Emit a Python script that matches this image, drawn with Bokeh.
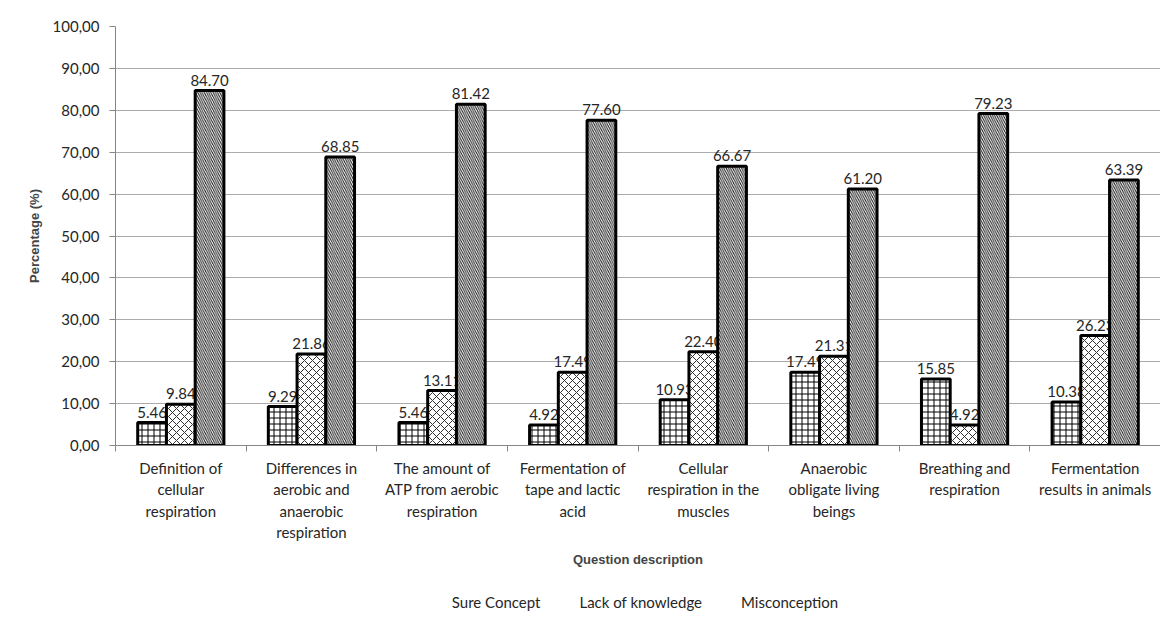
import numpy as np
from bokeh.plotting import figure
from bokeh.layouts import column
from bokeh.models import ColumnDataSource, FixedTicker, Legend, LegendItem, Range1d
from bokeh.transform import dodge
from bokeh.core.properties import value
from bokeh.embed import file_html
from bokeh.resources import INLINE

categories = [
    "Definition of\ncellular\nrespiration",
    "Differences in\naerobic and\nanaerobic\nrespiration",
    "The amount of\nATP from aerobic\nrespiration",
    "Fermentation of\ntape and lactic\nacid",
    "Cellular\nrespiration in the\nmuscles",
    "Anaerobic\nobligate living\nbeings",
    "Breathing and\nrespiration",
    "Fermentation\nresults in animals",
]
series_names = ["Sure Concept", "Lack of knowledge", "Misconception"]
sure_concept = [5.46, 9.29, 5.46, 4.92, 10.93, 17.49, 15.85, 10.38]
lack_of_knowledge = [9.84, 21.86, 13.11, 17.49, 22.40, 21.31, 4.92, 26.23]
misconception = [84.70, 68.85, 81.42, 77.60, 66.67, 61.20, 79.23, 63.39]
y_ticks = [0, 10, 20, 30, 40, 50, 60, 70, 80, 90, 100]

n = len(categories)
xc = np.arange(n) + 0.5
src = ColumnDataSource(dict(
    x=xc,
    s0=sure_concept, s1=lack_of_knowledge, s2=misconception,
    l0=[f"{v:.2f}" for v in sure_concept],
    l1=[f"{v:.2f}" for v in lack_of_knowledge],
    l2=[f"{v:.2f}" for v in misconception],
))

FONT = "Lato"
TXT = "#262626"
p = figure(width=1160, height=580, output_backend="svg", toolbar_location=None,
           x_range=Range1d(0, n), y_range=Range1d(0, 100),
           min_border_left=115, min_border_right=0, min_border_top=26, min_border_bottom=135)
p.outline_line_color = None
p.background_fill_color = "white"

bw = 0.22
offsets = [-bw, 0.0, bw]
hatches = [("+", 6, 1.0, "#000000"), ("x", 8, 1.0, "#303030"), ("\\", 4.4, 1.0, "#1a1a1a")]
for i in range(3):
    pat, sc, wt, hc = hatches[i]
    p.vbar(x=dodge("x", offsets[i]), top=f"s{i}", width=bw, bottom=0, source=src,
           fill_color="white", line_color="black", line_width=3,
           hatch_pattern=pat, hatch_scale=sc, hatch_weight=wt, hatch_color=hc)
    p.text(x=dodge("x", offsets[i]), y=f"s{i}", text=f"l{i}", source=src,
           text_align="center", text_baseline="bottom", y_offset=-5,
           text_font=value(FONT), text_font_size="15px", text_color=TXT)

# axes
xa = p.xaxis[0]
xa.ticker = FixedTicker(ticks=list(xc), minor_ticks=list(range(n + 1)))
xa.major_label_overrides = {float(x): c for x, c in zip(xc, categories)}
xa.major_tick_line_color = None
xa.major_tick_out = 0
xa.minor_tick_in = 0
xa.minor_tick_out = 6
xa.minor_tick_line_color = "#868686"
xa.axis_line_color = "#868686"
xa.major_label_text_font = FONT
xa.major_label_text_font_size = "15px"
xa.major_label_text_color = TXT
xa.major_label_text_line_height = 1.2
xa.major_label_standoff = 7
xa.axis_label = "Question description"
xa.axis_label_text_font = "Liberation Sans"
xa.axis_label_text_font_style = "bold"
xa.axis_label_text_font_size = "13px"
xa.axis_label_standoff = 8

ya = p.yaxis[0]
ya.ticker = FixedTicker(ticks=y_ticks, minor_ticks=[])
ya.major_label_overrides = {t: f"{t:.2f}".replace(".", ",") for t in y_ticks}
ya.axis_line_color = "#868686"
ya.major_tick_line_color = "#868686"
ya.major_tick_in = 0
ya.major_tick_out = 6
ya.major_label_standoff = 10
ya.major_label_text_font = FONT
ya.major_label_text_font_size = "15px"
ya.major_label_text_color = TXT
ya.axis_label = "Percentage (%)"
ya.axis_label_text_font = "Liberation Sans"
ya.axis_label_text_font_style = "bold"
ya.axis_label_text_font_size = "13px"
ya.axis_label_standoff = 8

p.xgrid.grid_line_color = None
p.ygrid.grid_line_color = "#ABABAB"
p.ygrid.ticker = FixedTicker(ticks=y_ticks)

# legend in its own strip below the chart
p2 = figure(width=1160, height=44, output_backend="svg", toolbar_location=None,
            x_axis_type=None, y_axis_type=None, x_range=Range1d(0, 1), y_range=Range1d(0, 1),
            min_border=0)
p2.outline_line_color = None
p2.grid.visible = False
empty = ColumnDataSource(dict(x=[], top=[]))
leg_renderers = []
for i in range(3):
    pat, sc, wt, hc = hatches[i]
    r = p2.vbar(x="x", top="top", width=0.1, source=empty,
                fill_color="white", line_color="black", line_width=2,
                hatch_pattern=pat, hatch_scale=max(3, sc * 0.6), hatch_weight=wt, hatch_color=hc)
    leg_renderers.append(r)
legend = Legend(items=[LegendItem(label=series_names[i], renderers=[leg_renderers[i]]) for i in range(3)],
                orientation="horizontal", location="center",
                glyph_width=11, glyph_height=11, label_standoff=4, spacing=24,
                padding=0, margin=0, border_line_color=None, background_fill_alpha=0,
                label_text_font=FONT, label_text_font_size="15px", label_text_color=TXT)
p2.add_layout(legend, "center")

open("out.html", "w").write(file_html(column(p, p2, spacing=0), INLINE))
